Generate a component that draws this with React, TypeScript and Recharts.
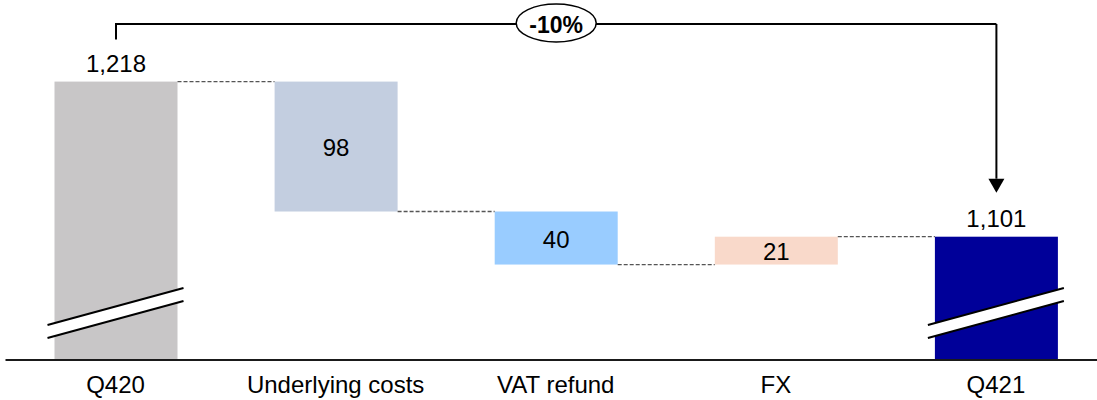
import { BarChart, Bar, XAxis, YAxis, LabelList } from 'recharts';

const categories = ['Q420', 'Underlying costs', 'VAT refund', 'FX', 'Q421'];
const kinds = ['total', 'step', 'step', 'step', 'total'];
const values = [1218, -98, -40, 21, 1101];
const colors = ['#C8C6C7', '#C3CEE0', '#99CCFF', '#F9D9CA', '#000099'];

// broken axis: bars start at this value, the break marks hide the rest
const AXIS_FLOOR = 1008;
const AXIS_TOP = 1272;

const CHART_W = 1106;
const CHART_H = 400;
const MARGIN = { top: 10, right: 0, bottom: 10, left: 5.5 };
const BAND = (CHART_W - MARGIN.left - MARGIN.right) / categories.length;
const BRACKET_Y = 24;

let running = 0;
const rows = categories.map((name, i) => {
  const v = values[i];
  if (kinds[i] === 'total') {
    running = v;
    return { name, kind: 'total', range: [AXIS_FLOOR, v], end: v, high: v, label: v.toLocaleString('en-US'), color: colors[i] };
  }
  const start = running;
  running = start + v;
  return {
    name,
    kind: 'step',
    range: [Math.min(start, running), Math.max(start, running)],
    end: running,
    high: Math.max(start, running),
    label: String(Math.abs(v)),
    color: colors[i],
  };
});

const first = values[0];
const last = values[values.length - 1];
const pct = `${Math.round(((last - first) / first) * 100)}%`;

const renderBar = (props: any) => {
  const { x, y, width, height, index } = props;
  const row = rows[index];
  const bottom = y + height;
  const cx = x + width / 2;
  const level = row.end === row.high ? y : bottom;
  const isLast = index === rows.length - 1;

  return (
    <g>
      <rect x={x} y={y} width={width} height={height} fill={row.color} />
      {!isLast && (
        <line x1={x + width} x2={x + BAND} y1={level} y2={level} stroke="#555" strokeWidth={1.3} strokeDasharray="4 2" />
      )}
      {row.kind === 'total' && (
        <g>
          <polygon
            points={`${x - 7},${bottom - 22} ${x + width + 6},${bottom - 59} ${x + width + 6},${bottom - 72} ${x - 7},${bottom - 35}`}
            fill="#fff"
          />
          <line x1={x - 7} y1={bottom - 35} x2={x + width + 6} y2={bottom - 72} stroke="#000" strokeWidth={2} />
          <line x1={x - 7} y1={bottom - 22} x2={x + width + 6} y2={bottom - 59} stroke="#000" strokeWidth={2} />
        </g>
      )}
      {index === 0 && (
        <g>
          <polyline
            points={`${cx},${y - 42} ${cx},${BRACKET_Y} ${cx + BAND * (rows.length - 1)},${BRACKET_Y}`}
            fill="none"
            stroke="#000"
            strokeWidth={2}
          />
          <ellipse cx={cx + (BAND * (rows.length - 1)) / 2} cy={23} rx={40} ry={19} fill="#fff" stroke="#000" strokeWidth={1.5} />
          <text x={cx + (BAND * (rows.length - 1)) / 2} y={33} textAnchor="middle" fontSize={23} fontWeight="bold" fill="#000">
            {pct}
          </text>
        </g>
      )}
      {isLast && (
        <g>
          <line x1={cx} x2={cx} y1={BRACKET_Y} y2={y - 58} stroke="#000" strokeWidth={2} />
          <polygon points={`${cx - 8},${y - 58} ${cx + 8},${y - 58} ${cx},${y - 44}`} fill="#000" />
        </g>
      )}
    </g>
  );
};

const renderLabel = (props: any) => {
  const { x, y, width, height, index } = props;
  const row = rows[index];
  const cx = x + width / 2;
  if (row.kind === 'total') {
    return (
      <text x={cx} y={y - 10} textAnchor="middle" fontSize={24} fill="#000">
        {row.label}
      </text>
    );
  }
  return (
    <text x={cx} y={y + height / 2 + 9.5} textAnchor="middle" fontSize={24} fill="#000">
      {row.label}
    </text>
  );
};

export default function App() {
  return (
    <div
      style={{
        position: 'absolute',
        left: 0,
        top: 0,
        width: 1097,
        height: 400,
        overflow: 'hidden',
        background: '#fff',
        fontFamily: '"Liberation Sans", Arial, sans-serif',
      }}
    >
      <BarChart width={CHART_W} height={CHART_H} data={rows} margin={MARGIN}>
        <XAxis
          dataKey="name"
          tickLine={false}
          tickSize={0}
          tickMargin={16}
          height={30}
          interval={0}
          axisLine={{ stroke: '#1a1a1a', strokeWidth: 2 }}
          tick={{ fill: '#000', fontSize: 24 }}
        />
        <YAxis hide domain={[AXIS_FLOOR, AXIS_TOP]} />
        <Bar dataKey="range" barSize={123} shape={renderBar} isAnimationActive={false}>
          <LabelList dataKey="label" content={renderLabel} />
        </Bar>
      </BarChart>
    </div>
  );
}
